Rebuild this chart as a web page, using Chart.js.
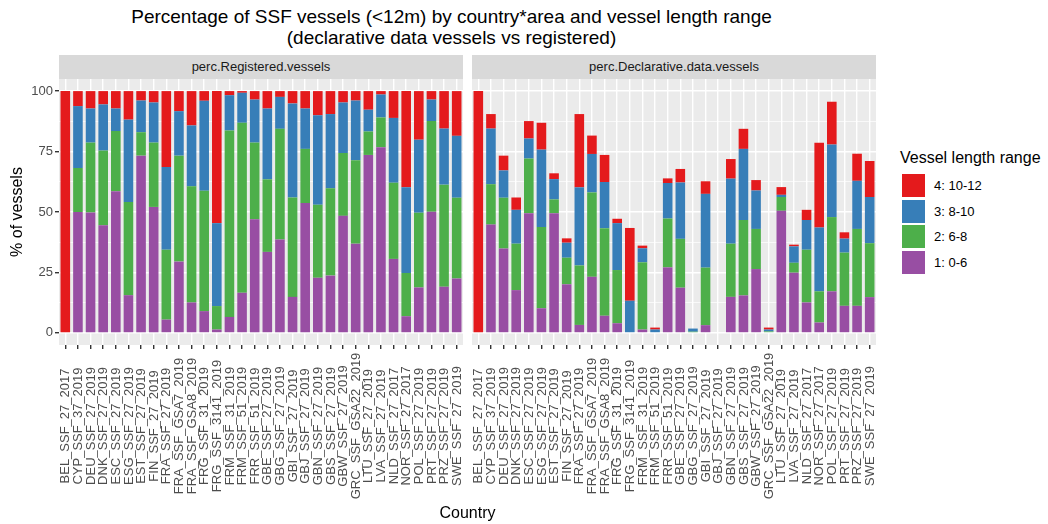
<!DOCTYPE html>
<html><head><meta charset="utf-8">
<script src="https://cdn.jsdelivr.net/npm/chart.js@4.4.1/dist/chart.umd.min.js"></script>
<style>
html,body{margin:0;padding:0;background:#fff;width:1048px;height:524px;overflow:hidden;font-family:"Liberation Sans",Arial,sans-serif;}
#wrap{position:relative;width:1048px;height:524px;}
.abs{position:absolute;}
#title{left:0;width:903px;top:6px;text-align:center;font-size:19px;line-height:21px;color:#000;}
.strip{top:55px;height:24px;background:#D9D9D9;font-size:13px;color:#1A1A1A;text-align:center;line-height:24px;width:404px;}
#xtitle{left:0;width:935px;top:504px;text-align:center;font-size:16px;line-height:18px;color:#000;}
#legTitle{left:900px;top:149px;font-size:16px;line-height:18px;color:#000;white-space:nowrap;}
.key{width:23px;height:23px;left:902px;}
.klab{left:934px;font-size:13px;line-height:23px;color:#000;white-space:nowrap;}
canvas{position:absolute;}
</style>
</head><body><div id="wrap">
<div id="title" class="abs">Percentage of SSF vessels (&lt;12m) by country*area and vessel length range<br>(declarative data vessels vs registered)</div>
<div id="strip0" class="abs strip" style="left:59px"></div>
<div id="strip1" class="abs strip" style="left:472px"></div>
<canvas id="c0" width="463" height="445" style="left:0;top:79px"></canvas>
<canvas id="c1" width="404" height="445" style="left:472px;top:79px"></canvas>
<div id="xtitle" class="abs">Country</div>
<div id="legend"></div>
</div>
<script>
const categories = ["BEL_SSF_27_2017","CYP_SSF_37_2019","DEU_SSF_27_2019","DNK_SSF_27_2019","ESC_SSF_27_2019","ESG_SSF_27_2019","EST_SSF_27_2019","FIN_SSF_27_2019","FRA_SSF_27_2019","FRA_SSF_GSA7_2019","FRA_SSF_GSA8_2019","FRG_SSF_31_2019","FRG_SSF_3141_2019","FRM_SSF_31_2019","FRM_SSF_51_2019","FRR_SSF_51_2019","GBE_SSF_27_2019","GBG_SSF_27_2019","GBI_SSF_27_2019","GBJ_SSF_27_2019","GBN_SSF_27_2019","GBS_SSF_27_2019","GBW_SSF_27_2019","GRC_SSF_GSA22_2019","LTU_SSF_27_2019","LVA_SSF_27_2019","NLD_SSF_27_2017","NOR_SSF_27_2017","POL_SSF_27_2019","PRT_SSF_27_2019","PRZ_SSF_27_2019","SWE_SSF_27_2019"];

// perc.Registered.vessels
const reg_0_6   = [0,50,49.8,44.5,58.6,15.6,73.3,52.1,5.5,29.5,12.6,9.0,1.4,6.6,16.6,47.0,33.5,38.6,14.9,53.7,22.8,23.7,48.4,36.9,73.6,76.8,30.6,6.9,18.8,50.1,19.1,22.5];
const reg_6_8   = [0,18.2,28.9,30.9,24.9,38.5,9.7,26.6,28.9,43.8,48.0,49.8,9.7,77.1,70.3,31.7,30.0,45.8,41.1,22.4,30.2,36.1,26.0,34.5,9.7,12.3,31.5,17.9,30.9,37.5,42.2,33.4];
const reg_8_10  = [0,25.6,14.1,19.1,9.3,34.1,13.1,16.6,34.2,18.4,25.2,37.2,34.3,14.6,12.4,17.8,29.3,13.2,38.9,16.7,37.0,30.7,20.9,24.7,9.0,9.5,26.8,35.4,30.2,8.9,23.2,25.6];
const reg_10_12 = [100,6.2,7.2,5.5,7.2,11.8,3.9,4.7,31.4,8.3,14.2,4.0,54.6,1.7,0.7,3.5,7.2,2.4,5.1,7.2,10.0,9.5,4.7,3.9,7.7,1.4,11.1,39.8,20.1,3.5,15.5,18.5];

// perc.Declarative.data.vessels
const dec_0_6   = [0,44.8,34.9,17.7,49.5,10.2,49.5,20.1,3.3,23.2,7.1,4.0,0,1.4,0,27.1,18.7,0,3.2,0,14.9,15.5,26.4,0.3,50.5,24.9,12.6,4.3,17.2,11.2,11.2,14.8];
const dec_6_8   = [0,16.7,21.0,19.2,22.6,33.6,5.7,11.0,24.6,34.9,36.2,22.0,0,27.8,0,20.2,20.2,0.5,23.8,0,22.0,31.2,16.6,0.3,5.7,4.1,21.8,12.9,30.7,22.0,31.8,22.3];
const dec_8_10  = [0,23.0,11.3,14.0,8.3,32.0,8.4,6.2,32.3,15.9,19.1,19.4,13.3,5.8,1.4,14.7,23.3,1.3,30.5,0,26.9,29.4,15.9,0.8,0.9,6.8,12.3,26.4,30.0,5.8,19.9,19.1];
const dec_10_12 = [100,6.0,6.1,5.1,7.2,11.1,2.4,1.8,30.3,7.6,11.2,1.8,30.1,1.1,0.8,1.9,5.6,0,5.2,0,8.1,8.3,4.3,0.8,3.2,0.7,4.2,35.0,17.7,2.6,11.2,14.9];

const seriesLabels = ["1: 0-6","2: 6-8","3: 8-10","4: 10-12"];
const seriesColors = ["#984EA3","#4DAF4A","#377EB8","#E41A1C"];
const panelTitles = ["perc.Registered.vessels","perc.Declarative.data.vessels"];
const yTicks = [0,25,50,75,100];
const legendTitle = "Vessel length range";
const yTitle = "% of vessels";

const FONT = '"Liberation Sans", Arial, sans-serif';
document.getElementById('strip0').textContent = panelTitles[0];
document.getElementById('strip1').textContent = panelTitles[1];

// legend (reverse order like ggplot)
(function(){
  const lg = document.getElementById('legend');
  let h = '<div id="legTitle" class="abs">' + legendTitle + '</div>';
  for (let k = 0; k < 4; k++) {
    const i = 3 - k;
    const top = 174 + k * 25.5;
    h += '<div class="abs key" style="top:' + top + 'px;background:' + seriesColors[i] + '"></div>';
    h += '<div class="abs klab" style="top:' + top + 'px">' + seriesLabels[i] + '</div>';
  }
  lg.innerHTML = h;
})();

const allYTicks = [];
for (let i = 0; i < yTicks.length; i++) {
  allYTicks.push(yTicks[i]);
  if (i < yTicks.length - 1) allYTicks.push((yTicks[i] + yTicks[i+1]) / 2);
}
const isMajor = v => yTicks.indexOf(v) >= 0;

const bgPlugin = {
  id: 'panelBg',
  beforeDraw(chart) {
    const a = chart.chartArea, ctx = chart.ctx;
    ctx.save(); ctx.fillStyle = '#EBEBEB';
    ctx.fillRect(a.left, a.top, a.right - a.left, a.bottom - a.top);
    ctx.restore();
  }
};
const xLabelPlugin = {
  id: 'xLabels',
  afterDraw(chart) {
    const xs = chart.scales.x, ctx = chart.ctx;
    const yc = 426 - 79;
    ctx.save();
    ctx.font = '13px ' + FONT;
    ctx.fillStyle = '#4D4D4D';
    ctx.textAlign = 'center'; ctx.textBaseline = 'middle';
    categories.forEach((c, i) => {
      const x = xs.getPixelForValue(i);
      ctx.save(); ctx.translate(x + 0.5, yc); ctx.rotate(-Math.PI / 2);
      ctx.fillText(c, 0, 0); ctx.restore();
    });
    ctx.restore();
  }
};

function makeChart(id, series, showY) {
  return new Chart(document.getElementById(id), {
    type: 'bar',
    data: {
      labels: categories,
      datasets: series.map((d, i) => ({
        label: seriesLabels[i], data: d, backgroundColor: seriesColors[i],
        borderWidth: 0, barPercentage: 0.76, categoryPercentage: 1
      }))
    },
    plugins: [bgPlugin, xLabelPlugin],
    options: {
      responsive: false, animation: false, devicePixelRatio: 1,
      layout: { padding: 0, autoPadding: false },
      plugins: { legend: { display: false }, tooltip: { enabled: false }, title: { display: false } },
      scales: {
        x: {
          stacked: true, offset: true,
          grid: { offset: false, color: '#FFFFFF', lineWidth: 1.4, tickColor: '#333333', tickLength: 4, drawTicks: true },
          border: { display: false },
          ticks: { display: false },
          afterFit: s => { s.height = 179; s.paddingLeft = 0; s.paddingRight = 0; }
        },
        y: {
          stacked: true, min: -5, max: 105,
          afterBuildTicks: s => { s.ticks = allYTicks.map(v => ({ value: v })); },
          grid: {
            color: '#FFFFFF',
            lineWidth: c => isMajor(c.tick.value) ? 1.4 : 0.7,
            tickColor: c => (showY && isMajor(c.tick.value)) ? '#333333' : 'rgba(0,0,0,0)',
            tickLength: 4, drawTicks: showY
          },
          border: { display: false },
          ticks: {
            display: showY, padding: 2, color: '#4D4D4D',
            font: { size: 13, family: FONT },
            callback: v => isMajor(v) ? String(v) : ''
          },
          title: {
            display: showY, text: yTitle, color: '#000000',
            font: { size: 16, family: FONT }, padding: { top: 8, bottom: 0 }
          },
          afterFit: s => { s.width = showY ? 59 : 0; s.paddingTop = 0; s.paddingBottom = 0; }
        }
      }
    }
  });
}
makeChart('c0', [reg_0_6, reg_6_8, reg_8_10, reg_10_12], true);
makeChart('c1', [dec_0_6, dec_6_8, dec_8_10, dec_10_12], false);
</script>
</body></html>
